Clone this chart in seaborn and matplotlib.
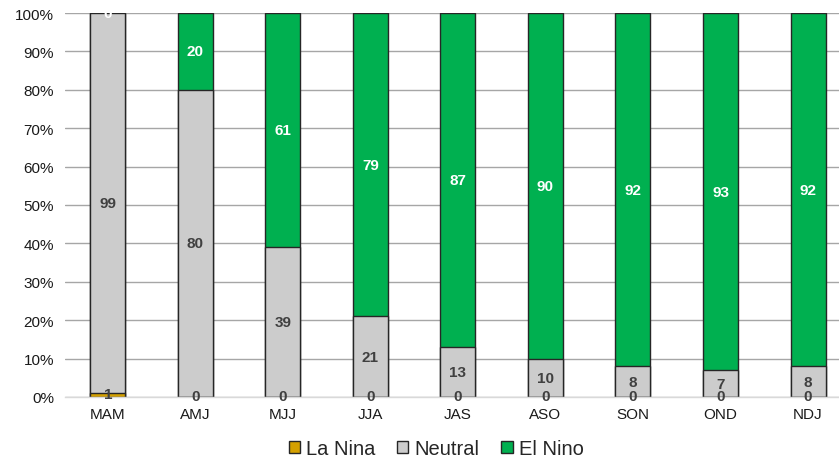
import matplotlib
matplotlib.use("Agg")
import matplotlib.pyplot as plt
import seaborn as sns
import numpy as np
import pandas as pd
from matplotlib.patches import Patch

seasons = ["MAM", "AMJ", "MJJ", "JJA", "JAS", "ASO", "SON", "OND", "NDJ"]
la_nina = [1, 0, 0, 0, 0, 0, 0, 0, 0]
neutral = [99, 80, 39, 21, 13, 10, 8, 7, 8]
el_nino = [0, 20, 61, 79, 87, 90, 92, 93, 92]

c_lanina = "#D4A000"
c_neutral = "#CCCCCC"
c_elnino = "#00B050"

sns.set_theme(style="white")
plt.rcParams["font.family"] = ["Liberation Sans", "DejaVu Sans"]

df = pd.DataFrame({"season": seasons, "la": la_nina, "neu": neutral, "el": el_nino})
df["t_la"] = df["la"]
df["t_neu"] = df["la"] + df["neu"]
df["t_el"] = df["la"] + df["neu"] + df["el"]

fig = plt.figure(figsize=(8.39, 4.64), dpi=100)
ax = fig.add_axes([65 / 839, 1 - 398 / 464, 1 - 65 / 839, (398 - 14) / 464])

kw = dict(width=0.4, edgecolor="#262626", linewidth=1.0, ax=ax, order=seasons)
sns.barplot(data=df, x="season", y="t_el", color=c_elnino, saturation=1, **kw)
sns.barplot(data=df, x="season", y="t_neu", color=c_neutral, saturation=1, **kw)
sns.barplot(data=df, x="season", y="t_la", color=c_lanina, saturation=1, **kw)

ax.set_ylim(0, 100)
ax.set_xlim(-0.49, 8.354)
ax.set_yticks(np.arange(0, 101, 10))
ax.set_yticklabels([f"{v}%" for v in range(0, 101, 10)], fontsize=11, color="#1a1a1a")
ax.tick_params(axis="x", labelsize=11, colors="#1a1a1a", length=0, pad=7)
ax.tick_params(axis="y", length=0, pad=8)
ax.set_xlabel("")
ax.set_ylabel("")
ax.yaxis.grid(True, color="#a6a6a6", linewidth=1.0)
ax.set_axisbelow(True)
for s in ["top", "right", "left"]:
    ax.spines[s].set_visible(False)
ax.spines["bottom"].set_color("#d9d9d9")
ax.spines["bottom"].set_linewidth(1.0)

for i in range(len(seasons)):
    la, ne, el = la_nina[i], neutral[i], el_nino[i]
    ax.text(i, la / 2 + 0.3, f"{la}", ha="center", va="center", fontsize=11,
            fontweight="bold", color="#404040")
    ax.text(i, la + ne / 2, f"{ne}", ha="center", va="center", fontsize=11,
            fontweight="bold", color="#404040")
    ax.text(i, la + ne + el / 2, f"{el}", ha="center", va="center", fontsize=11,
            fontweight="bold", color="white", clip_on=True)

handles = [Patch(facecolor=c_lanina, edgecolor="#262626", label="La Nina"),
           Patch(facecolor=c_neutral, edgecolor="#262626", label="Neutral"),
           Patch(facecolor=c_elnino, edgecolor="#262626", label="El Nino")]
fig.legend(handles=handles, loc="center", bbox_to_anchor=(436 / 839, 1 - 450 / 464),
           ncol=3, frameon=False, fontsize=14.5, handlelength=0.55, handleheight=0.55,
           handletextpad=0.3, columnspacing=1.1)

fig.savefig("out.png", dpi=100)
